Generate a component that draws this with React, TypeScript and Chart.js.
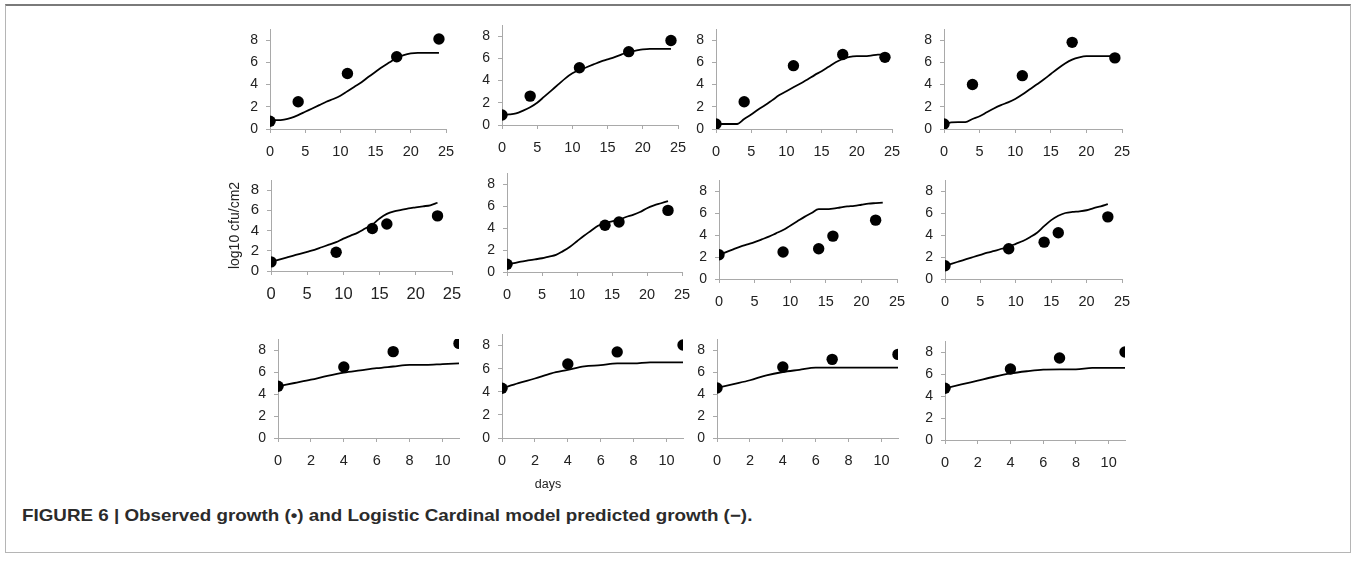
import React, { useEffect, useRef } from "react";
import { Chart, registerables } from "chart.js";
Chart.register(...registerables);

// ---------- data ----------
const obsDaysA = [0, 4, 11, 18, 24];
const obsDaysB = [0, 9, 14, 16, 23];
const obsDaysB6 = [0, 14, 16, 23];
const obsDaysB7 = [0, 9, 14, 16, 22];
const obsDaysC = [0, 4, 7, 11];

const lineDaysA = [0, 1, 2, 3, 4, 5, 6, 7, 8, 9, 10, 11, 12, 13, 14, 15, 16, 17, 18, 19, 20, 21, 22, 23, 24];
const lineDaysB = [0, 1, 2, 3, 4, 5, 6, 7, 8, 9, 10, 11, 12, 13, 14, 15, 16, 17, 18, 19, 20, 21, 22, 23];
const lineDaysC = [0, 1, 2, 3, 4, 5, 6, 7, 8, 9, 10, 11];

const obs1 = [0.7, 2.45, 5.0, 6.5, 8.1];
const obs2 = [0.9, 2.6, 5.15, 6.6, 7.6];
const obs3 = [0.45, 2.45, 5.7, 6.7, 6.45];
const obs4 = [0.45, 4.0, 4.8, 7.8, 6.4];
const obs5 = [0.9, 1.85, 4.2, 4.65, 5.45];
const obs6 = [0.7, 4.25, 4.55, 5.6];
const obs7 = [2.2, 2.45, 2.75, 3.9, 5.35];
const obs8 = [1.2, 2.75, 3.35, 4.2, 5.65];
const obs9 = [4.7, 6.45, 7.85, 8.6];
const obs10 = [4.3, 6.4, 7.45, 8.05];
const obs11 = [4.55, 6.45, 7.15, 7.6];
const obs12 = [4.7, 6.45, 7.45, 8.0];

const model1 = [0.8, 0.8, 0.85, 1.0, 1.25, 1.55, 1.85, 2.15, 2.45, 2.7, 3.0, 3.4, 3.8, 4.2, 4.7, 5.15, 5.6, 6.0, 6.4, 6.65, 6.8, 6.85, 6.85, 6.85, 6.85];
const model2 = [0.9, 0.95, 1.05, 1.3, 1.6, 2.0, 2.55, 3.1, 3.65, 4.2, 4.65, 4.95, 5.2, 5.45, 5.7, 5.9, 6.1, 6.35, 6.6, 6.7, 6.8, 6.85, 6.85, 6.85, 6.85];
const model3 = [0.45, 0.45, 0.45, 0.45, 0.9, 1.3, 1.75, 2.15, 2.6, 3.05, 3.4, 3.75, 4.1, 4.45, 4.85, 5.2, 5.6, 6.0, 6.3, 6.5, 6.55, 6.55, 6.6, 6.7, 6.7];
const model4 = [0.4, 0.6, 0.62, 0.62, 0.9, 1.15, 1.5, 1.85, 2.15, 2.4, 2.7, 3.1, 3.55, 4.0, 4.45, 4.95, 5.45, 5.9, 6.25, 6.45, 6.55, 6.55, 6.55, 6.55, 6.55];
const model5 = [0.9, 1.1, 1.3, 1.5, 1.7, 1.9, 2.1, 2.35, 2.6, 2.85, 3.2, 3.5, 3.8, 4.2, 4.6, 5.2, 5.65, 5.9, 6.05, 6.2, 6.3, 6.4, 6.5, 6.75];
const model6 = [0.7, 0.8, 0.95, 1.05, 1.15, 1.25, 1.4, 1.55, 1.9, 2.3, 2.8, 3.3, 3.75, 4.2, 4.45, 4.6, 4.75, 5.0, 5.2, 5.45, 5.8, 6.05, 6.25, 6.45];
const model7 = [2.2, 2.45, 2.7, 2.95, 3.15, 3.35, 3.6, 3.85, 4.15, 4.45, 4.85, 5.25, 5.65, 6.0, 6.35, 6.35, 6.4, 6.5, 6.6, 6.65, 6.75, 6.85, 6.9, 6.95];
const model8 = [1.2, 1.4, 1.6, 1.8, 2.0, 2.2, 2.4, 2.55, 2.75, 2.95, 3.2, 3.45, 3.8, 4.2, 4.8, 5.35, 5.75, 6.0, 6.1, 6.15, 6.25, 6.45, 6.6, 6.8];
const model9 = [4.7, 5.0, 5.3, 5.65, 5.95, 6.15, 6.35, 6.5, 6.65, 6.65, 6.72, 6.78];
const model10 = [4.3, 4.75, 5.15, 5.6, 5.9, 6.2, 6.3, 6.45, 6.45, 6.55, 6.55, 6.55];
const model11 = [4.55, 4.9, 5.25, 5.7, 6.0, 6.2, 6.4, 6.4, 6.4, 6.4, 6.4, 6.4];
const model12 = [4.7, 5.05, 5.4, 5.75, 6.05, 6.25, 6.4, 6.42, 6.42, 6.55, 6.55, 6.55];

const yTitle = "log10 cfu/cm2";
const xTitle = "days";
const caption = "FIGURE 6 | Observed growth (\u2022) and Logistic Cardinal model predicted growth (\u2212).";

// ---------- layout (pixel placement of each panel) ----------
type Cfg = {
  obsX: number[]; obsY: number[]; lineX: number[]; lineY: number[];
  xMax: number; xStep: number;
  x0: number; x1: number; y0: number; yTop: number;
  xFont: number; yFont: number; title?: string;
};

const FONT = "'Liberation Sans', Arial, Helvetica, sans-serif";

const panels: Cfg[] = [
  { obsX: obsDaysA, obsY: obs1, lineX: lineDaysA, lineY: model1, xMax: 25, xStep: 5, x0: 270, x1: 446, y0: 129, yTop: 29, xFont: 14.5, yFont: 14 },
  { obsX: obsDaysA, obsY: obs2, lineX: lineDaysA, lineY: model2, xMax: 25, xStep: 5, x0: 502, x1: 678, y0: 125, yTop: 25, xFont: 14.5, yFont: 14 },
  { obsX: obsDaysA, obsY: obs3, lineX: lineDaysA, lineY: model3, xMax: 25, xStep: 5, x0: 716, x1: 892, y0: 129, yTop: 29, xFont: 14.5, yFont: 14 },
  { obsX: obsDaysA, obsY: obs4, lineX: lineDaysA, lineY: model4, xMax: 25, xStep: 5, x0: 944, x1: 1122, y0: 129, yTop: 29, xFont: 14.5, yFont: 14 },
  { obsX: obsDaysB, obsY: obs5, lineX: lineDaysB, lineY: model5, xMax: 25, xStep: 5, x0: 271, x1: 452, y0: 271, yTop: 180, xFont: 16.5, yFont: 15, title: yTitle },
  { obsX: obsDaysB6, obsY: obs6, lineX: lineDaysB, lineY: model6, xMax: 25, xStep: 5, x0: 507, x1: 682, y0: 272, yTop: 173, xFont: 14.5, yFont: 14 },
  { obsX: obsDaysB7, obsY: obs7, lineX: lineDaysB, lineY: model7, xMax: 25, xStep: 5, x0: 719, x1: 897, y0: 279, yTop: 180, xFont: 14.5, yFont: 14 },
  { obsX: obsDaysB, obsY: obs8, lineX: lineDaysB, lineY: model8, xMax: 25, xStep: 5, x0: 945, x1: 1122, y0: 279, yTop: 180, xFont: 14.5, yFont: 14 },
  { obsX: obsDaysC, obsY: obs9, lineX: lineDaysC, lineY: model9, xMax: 11, xStep: 2, x0: 278, x1: 459, y0: 438, yTop: 339, xFont: 14.5, yFont: 14 },
  { obsX: obsDaysC, obsY: obs10, lineX: lineDaysC, lineY: model10, xMax: 11, xStep: 2, x0: 502, x1: 683, y0: 438, yTop: 334, xFont: 14.5, yFont: 14 },
  { obsX: obsDaysC, obsY: obs11, lineX: lineDaysC, lineY: model11, xMax: 11, xStep: 2, x0: 717, x1: 898, y0: 438, yTop: 339, xFont: 14.5, yFont: 14 },
  { obsX: obsDaysC, obsY: obs12, lineX: lineDaysC, lineY: model12, xMax: 11, xStep: 2, x0: 945, x1: 1125, y0: 440, yTop: 341, xFont: 14.5, yFont: 14 },
];

const AXIS = "#a9a9a9";
const TEXT = "#222";

function Panel({ cfg }: { cfg: Cfg }) {
  const ref = useRef<HTMLCanvasElement | null>(null);
  const WY = cfg.title ? 46 : 26;
  const HX = 36;
  const PT = 10;
  const PR = 16;
  const w = Math.round(cfg.x1 - cfg.x0) + WY + PR;
  const h = Math.round(cfg.y0 - cfg.yTop) + HX + PT;

  useEffect(() => {
    if (!ref.current) return;
    const chart = new Chart(ref.current, {
      type: "scatter",
      data: {
        datasets: [
          {
            data: cfg.obsX.map((x, i) => ({ x, y: cfg.obsY[i] })),
            showLine: false,
            pointRadius: 5.7,
            pointBackgroundColor: "#000",
            pointBorderWidth: 0,
            backgroundColor: "#000",
            borderColor: "#000",
            order: 0,
          },
          {
            data: cfg.lineX.map((x, i) => ({ x, y: cfg.lineY[i] })),
            showLine: true,
            pointRadius: 0,
            borderColor: "#000",
            borderWidth: 1.8,
            cubicInterpolationMode: "monotone",
            fill: false,
            order: 1,
          },
        ],
      },
      options: {
        animation: false,
        responsive: false,
        devicePixelRatio: 1,
        events: [],
        layout: { padding: { top: PT, right: PR, left: 0, bottom: 0 } },
        plugins: { legend: { display: false }, tooltip: { enabled: false } },
        scales: {
          x: {
            type: "linear",
            min: 0,
            max: cfg.xMax,
            afterFit: (s: any) => { s.height = HX; s.paddingLeft = 0; s.paddingRight = 0; },
            ticks: {
              stepSize: cfg.xStep,
              includeBounds: false,
              autoSkip: false,
              maxRotation: 0,
              padding: 10,
              color: TEXT,
              font: { family: FONT, size: cfg.xFont },
            },
            grid: { display: true, drawOnChartArea: false, drawTicks: true, tickLength: 4, color: AXIS },
            border: { display: true, color: AXIS, width: 1 },
          },
          y: {
            type: "linear",
            min: 0,
            max: 9,
            afterFit: (s: any) => { s.width = WY; s.paddingTop = 0; s.paddingBottom = 0; },
            ticks: {
              stepSize: 2,
              includeBounds: false,
              padding: 8,
              color: TEXT,
              font: { family: FONT, size: cfg.yFont },
            },
            title: cfg.title
              ? { display: true, text: cfg.title, color: TEXT, font: { family: FONT, size: 14 }, padding: { top: 2, bottom: 0 } }
              : { display: false },
            grid: { display: true, drawOnChartArea: false, drawTicks: true, tickLength: 4, color: AXIS },
            border: { display: true, color: AXIS, width: 1 },
          },
        },
      } as any,
    });
    return () => chart.destroy();
  }, []);

  return (
    <canvas
      ref={ref}
      width={w}
      height={h}
      style={{ position: "absolute", left: cfg.x0 - WY, top: cfg.yTop - PT, width: w, height: h }}
    />
  );
}

export default function App() {
  return (
    <div style={{ position: "absolute", left: 0, top: 0, width: 1355, height: 565, background: "#fff", overflow: "hidden" }}>
      <div
        style={{
          position: "absolute",
          left: 5,
          top: 4,
          width: 1344,
          height: 546,
          borderTop: "2px solid #7a7a7a",
          borderLeft: "1px solid #b5b5b5",
          borderRight: "1px solid #b5b5b5",
          borderBottom: "1px solid #b5b5b5",
        }}
      />
      {panels.map((p, i) => (
        <Panel key={i} cfg={p} />
      ))}
      <div
        style={{
          position: "absolute",
          left: 548 - 30,
          width: 60,
          top: 477,
          textAlign: "center",
          fontFamily: FONT,
          fontSize: 12.5,
          color: TEXT,
        }}
      >
        {xTitle}
      </div>
      <div
        style={{
          position: "absolute",
          left: 22,
          top: 506,
          fontFamily: FONT,
          fontSize: 16.5,
          fontWeight: "bold",
          color: "#2b2b2b",
          whiteSpace: "nowrap",
          lineHeight: "18px",
          transform: "scaleX(1.14)",
          transformOrigin: "0 50%",
        }}
      >
        {caption}
      </div>
    </div>
  );
}
